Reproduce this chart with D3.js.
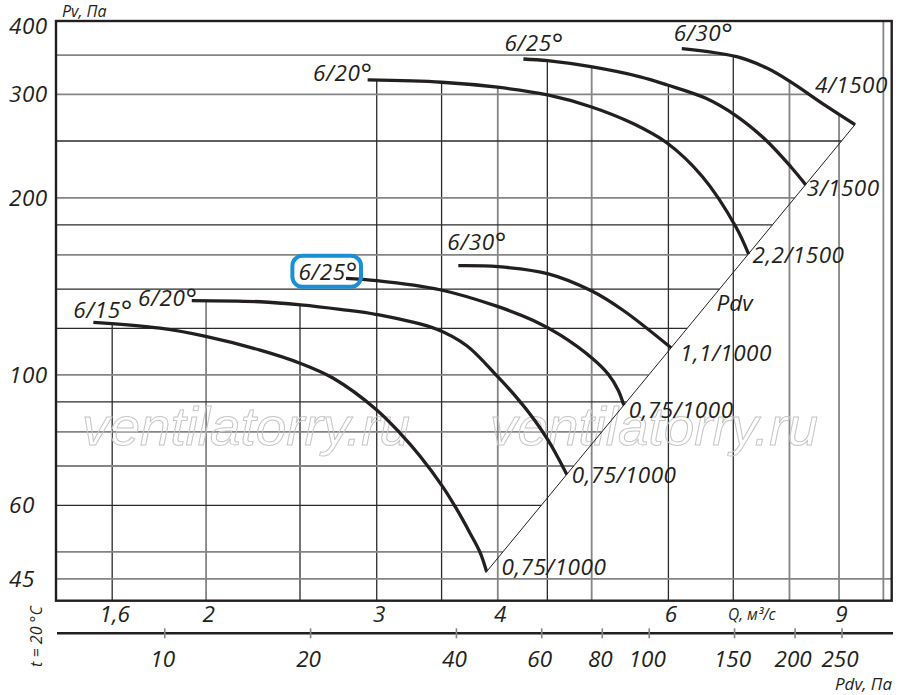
<!DOCTYPE html>
<html><head><meta charset="utf-8">
<script src="https://cdn.jsdelivr.net/npm/d3@7"></script>
<style>
body{margin:0;background:#fff;}
svg{display:block;background:#fff;}
text{font-family:"Open Sans",sans-serif;font-style:italic;fill:#231f20;}
</style></head><body>
<svg id="chart" width="900" height="695"></svg>
<script>
// ---------- data ----------
const qTicks = [1.6, 2, 3, 4, 6, 9];
const qTickLabels = ["1,6", "2", "3", "4", "6", "9"];
const qGrid = [1.6, 2, 2.5, 3, 3.5, 4, 4.5, 5, 6, 7, 8, 9, 10];
const qGridDark = [1.6, 2.5, 3, 3.5, 4.5, 6, 7];
const pTicks = [400, 300, 200, 100, 60, 45];
const pGrid = [350, 300, 250, 200, 180, 160, 140, 120, 100, 90, 80, 70, 60, 50, 45];
const pGridDark = [250, 180, 140, 120, 90, 60];
const pdvTicks = [10, 20, 40, 60, 80, 100, 150, 200, 250];
const pdvCoef = 3.05;               // Pdv = coef * Q^2
const pdvLineQ = [3.885, 9.35];

const seriesNames  = ["6/15°", "6/20°", "6/25°", "6/30°", "6/20°", "6/25°", "6/30°"];
const seriesMotors = ["0,75/1000", "0,75/1000", "0,75/1000", "1,1/1000", "2,2/1500", "3/1500", "4/1500"];
// [Q m3/s, Pv Pa]
const curve615 = [[1.530,122.9],[1.793,120.1],[1.998,116.3],[2.274,110.2],[2.504,104.6],[2.706,98.7],[3.000,87.2],[3.171,79.6],[3.326,72.7],[3.510,64.5],[3.628,59.1],[3.745,53.8],[3.835,49.9],[3.895,46.3]];
const curve620a = [[1.933,133.8],[2.274,133.2],[2.504,131.6],[2.750,129.3],[3.000,126.7],[3.460,119.6],[3.716,112.1],[3.990,99.7],[4.184,91.5],[4.370,83.6],[4.511,77.3],[4.616,72.3],[4.713,67.7]];
const curve625a = [[2.789,146.0],[3.000,144.7],[3.487,139.6],[3.990,130.9],[4.353,123.8],[4.638,117.0],[5.002,106.9],[5.199,100.4],[5.324,94.3],[5.397,88.8]];
const curve630a = [[3.642,153.4],[4.005,152.8],[4.511,148.6],[5.002,138.9],[5.391,128.7],[6.038,111.2]];
const curve620b = [[2.936,317.5],[3.500,314.7],[3.998,308.6],[4.502,299.4],[4.990,285.9],[5.509,267.9],[5.986,247.8],[6.506,217.3],[7.042,178.7],[7.260,160.5]];
const curve625b = [[4.251,344.7],[4.502,342.4],[4.990,334.4],[5.598,321.7],[5.986,311.3],[6.559,295.5],[7.042,276.2],[7.562,251.0],[8.025,226.0],[8.316,210.5]];
const curve630b = [[6.194,359.1],[7.057,347.8],[7.581,332.6],[8.044,314.2],[8.670,288.9],[9.349,266.6]];
const curves = [curve615, curve620a, curve625a, curve630a, curve620b, curve625b, curve630b];
const watermarkText = "ventilatorry.ru";

// ---------- layout ----------
const L = 56, R = 891.7, T = 21, B = 600.7;
const svg = d3.select("#chart");
const x = d3.scaleLog().domain([1.4, 10.2]).range([L, R]);
const y = d3.scaleLog().domain([41.3, 400]).range([B, T]);
const pdv = d3.scaleLog().domain([pdvCoef * 1.4 * 1.4, pdvCoef * 10.2 * 10.2]).range([L, R]);

const gGrid = svg.append("g");
const gMark = svg.append("g");
const gCurves = svg.append("g");
const gText = svg.append("g");

const line = d3.line().x(d => x(d[0])).y(d => y(d[1])).curve(d3.curveCatmullRom.alpha(0.5));
const paths = curves.map(c => gCurves.append("path")
  .attr("d", line(c)).attr("fill", "none")
  .attr("stroke", "#231f20").attr("stroke-width", 3.3));

// sample curves to polylines
const polys = paths.map(p => {
  const n = p.node(), len = n.getTotalLength(), pts = [];
  for (let i = 0; i <= 400; i++) { const pt = n.getPointAtLength(len * i / 400); pts.push([pt.x, pt.y]); }
  return pts;
});
function yAtX(poly, px) {
  if (px < poly[0][0] || px > poly[poly.length - 1][0]) return null;
  for (let i = 1; i < poly.length; i++) {
    const a = poly[i - 1], b = poly[i];
    if (px >= a[0] && px <= b[0]) { const t = b[0] === a[0] ? 0 : (px - a[0]) / (b[0] - a[0]); return a[1] + t * (b[1] - a[1]); }
  }
  return null;
}
function xAtY(poly, py) {
  for (let i = 1; i < poly.length; i++) {
    const a = poly[i - 1], b = poly[i];
    if ((py - a[1]) * (py - b[1]) <= 0 && a[1] !== b[1]) { const t = (py - a[1]) / (b[1] - a[1]); return a[0] + t * (b[0] - a[0]); }
  }
  return null;
}

// diagonal Pdv line
const diag = pdvLineQ.map(q => [q, pdvCoef * q * q]);
const yDiagBot = y(diag[0][1]), yDiagTop = y(diag[1][1]);
const outer = polys[polys.length - 1];

// vertical grid
qGrid.forEach(q => {
  const X = x(q);
  let top = T, found = false;
  polys.forEach(pl => { const v = yAtX(pl, X); if (v !== null) { if (!found || v < top) top = v; found = true; } });
  const dark = qGridDark.includes(q);
  gGrid.append("line").attr("x1", X).attr("x2", X).attr("y1", top).attr("y2", B)
    .attr("stroke", dark ? "#2b2b2b" : "#858585").attr("stroke-width", dark ? 1.3 : 1.8);
});
// horizontal grid
pGrid.forEach(p => {
  const Y = y(p);
  let xr = R;
  if (Y <= yDiagBot && Y >= yDiagTop) xr = x(Math.sqrt(p / pdvCoef));
  else if (Y < yDiagTop) { const v = xAtY(outer, Y); if (v !== null) xr = v; }
  const dark = pGridDark.includes(p);
  gGrid.append("line").attr("x1", L).attr("x2", xr).attr("y1", Y).attr("y2", Y)
    .attr("stroke", dark ? "#2b2b2b" : "#858585").attr("stroke-width", dark ? 1.3 : 1.8);
});

// watermark
[82, 490].forEach(wx => {
  gMark.append("text").attr("x", wx).attr("y", 445).text(watermarkText)
    .attr("textLength", 328).attr("lengthAdjust", "spacingAndGlyphs")
    .style("font-family", "'Liberation Sans', Arial, sans-serif").style("font-size", "54px")
    .style("fill", "none").style("stroke", "#c6c6c6").style("stroke-width", 1);
});

// diagonal
gCurves.append("path").attr("d", d3.line().x(d => x(d[0])).y(d => y(d[1]))(diag))
  .attr("fill", "none").attr("stroke", "#231f20").attr("stroke-width", 1);

// frame
svg.append("rect").attr("x", L).attr("y", T).attr("width", R - L).attr("height", B - T)
  .attr("fill", "none").attr("stroke", "#231f20").attr("stroke-width", 2.4);

// series labels
const nameLayout = [["start",-20,-4],["end",6,5],["end",12,2],["start",-11,-16],["end",5,1],["start",-19,-8],["start",-8,-7.5]];
const motorLayout = [[15,3],[5,8],[5,13],[9,13],[4,9],[1,11],[-40,-32]];
function nameText(sel, s) {
  const base = s.replace("°", "");
  sel.append("tspan").text(base);
  if (s.includes("°")) sel.append("tspan").attr("dy", 3).style("font-size", "27px").style("font-style", "normal").text("°");
}
curves.forEach((c, i) => {
  const s = c[0], e = c[c.length - 1];
  const nl = nameLayout[i];
  const t = gText.append("text").attr("x", x(s[0]) + nl[1]).attr("y", y(s[1]) + nl[2])
    .attr("text-anchor", nl[0]).style("font-size", "22.5px").style("letter-spacing", "0.6px");
  nameText(t, seriesNames[i]);
  if (i === 2) {
    const bb = t.node().getBBox();
    const cy = y(s[1]) + nl[2] - 9;
    gText.append("rect").attr("x", bb.x - 6).attr("y", cy - 15.5).attr("width", bb.width + 9).attr("height", 31)
      .attr("rx", 10).attr("fill", "none").attr("stroke", "#1a8fd6").attr("stroke-width", 4);
  }
  const ml = motorLayout[i];
  gText.append("text").attr("x", x(e[0]) + ml[0]).attr("y", y(e[1]) + ml[1])
    .style("font-size", "22.5px").style("letter-spacing", "0.5px").text(seriesMotors[i]);
});
// Pdv label on the diagonal
{
  const qm = 6.6;
  gText.append("text").attr("x", x(qm) + 8).attr("y", y(pdvCoef * qm * qm) + 9)
    .style("font-size", "22.5px").text("Pdv");
}

// Y axis
const yAxis = svg.append("g").call(d3.axisLeft(y).tickValues(pTicks).tickFormat(d3.format("d")).tickSize(0));
yAxis.attr("font-size", null).attr("font-family", null);
yAxis.select(".domain").remove();
yAxis.selectAll("text").attr("x", 9).attr("dy", null).attr("text-anchor", "start")
  .attr("y", d => Math.max(7.5, 33.5 - y(d))).style("font-size", "22.5px").style("letter-spacing", "0.5px");

// Q axis
const qAxis = svg.append("g").attr("transform", `translate(0,${B})`)
  .call(d3.axisBottom(x).tickValues(qTicks).tickFormat((d, i) => qTickLabels[i]).tickSize(0));
qAxis.attr("font-size", null).attr("font-family", null);
qAxis.select(".domain").remove();
qAxis.selectAll("text").attr("x", 2).attr("dy", null).attr("y", 21.3).style("font-size", "22.5px");
svg.append("text").attr("x", 728).attr("y", 620).style("font-size", "15.5px").text("Q, м³/с");

// Pdv axis
const pAxis = svg.append("g").attr("transform", "translate(0,633.3)")
  .call(d3.axisBottom(pdv).tickValues(pdvTicks).tickFormat(d3.format("d")).tickSizeOuter(0));
pAxis.attr("font-size", null).attr("font-family", null);
pAxis.select(".domain").attr("d", "M57,0H893").attr("stroke", "#231f20").attr("stroke-width", 2.6);
pAxis.selectAll(".tick line").attr("y1", -5).attr("y2", 5).attr("stroke", "#858585").attr("stroke-width", 1.6);
pAxis.selectAll("text").attr("dy", null).attr("y", 33.3).attr("x", -2).style("font-size", "22.5px");

// axis titles
svg.append("text").attr("x", 62).attr("y", 17).style("font-size", "16px").text("Pv, Па");
svg.append("text").attr("x", 892).attr("y", 690).attr("text-anchor", "end").style("font-size", "17px").text("Pdv, Па");
svg.append("text").attr("transform", "translate(41.5,636.5) rotate(-90)").attr("text-anchor", "middle")
  .style("font-size", "16px").text("t = 20 °C");
</script>
</body></html>
